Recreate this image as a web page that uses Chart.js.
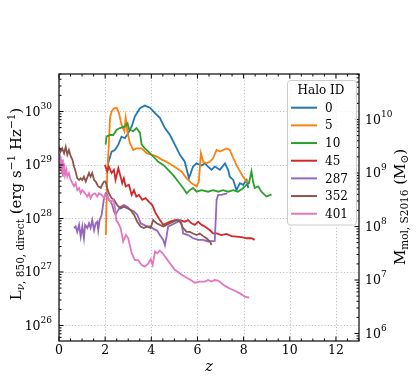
<!DOCTYPE html>
<html lang="en">
<head>
<meta charset="UTF-8" />
<title>Halo luminosity vs redshift</title>
<script src="https://cdn.jsdelivr.net/npm/chart.js"></script>
<style>
  body { margin: 0; background: #fff; }
  canvas { display: block; }
</style>
</head>
<body>
<canvas id="chart" width="416" height="382"></canvas>
<script>
  // halo ids and matplotlib tab colours
  const haloIds = ['0', '5', '10', '45', '287', '352', '401'];
  const haloColors = ['#1f77b4', '#ff7f0e', '#2ca02c', '#d62728', '#9467bd', '#8c564b', '#e377c2'];

  // tick labels
  const zTicks = [0, 2, 4, 6, 8, 10, 12];
  const lumDecades = [26, 27, 28, 29, 30];   // left axis, log10 L
  const massDecades = [6, 7, 8, 9, 10];      // right axis, log10 M

  // redshift / log10(L_850), one pair per halo
  const z_0 = [2.10, 2.13, 2.28, 2.42, 2.57, 2.71, 2.86, 3.00, 3.15, 3.29, 3.51, 3.72, 3.94, 4.16, 4.37, 4.59, 4.81, 5.02, 5.24, 5.45, 5.63, 5.81, 5.96, 6.18, 6.32, 6.46, 6.61, 6.75, 6.97, 7.19, 7.33, 7.40, 7.55, 7.69, 7.84, 7.98, 8.13, 8.20];
  const logL_0 = [28.90, 29.03, 29.25, 29.28, 29.38, 29.53, 29.50, 29.60, 29.72, 29.91, 30.06, 30.11, 30.07, 29.97, 29.88, 29.69, 29.56, 29.38, 29.19, 29.06, 28.75, 28.97, 29.03, 28.99, 29.03, 28.97, 28.91, 28.97, 28.91, 29.03, 28.91, 28.78, 28.72, 28.53, 28.66, 28.63, 28.72, 28.57];

  const z_5 = [2.03, 2.09, 2.16, 2.21, 2.28, 2.39, 2.50, 2.60, 2.71, 2.83, 2.89, 2.96, 3.07, 3.22, 3.36, 3.58, 3.80, 4.01, 4.23, 4.45, 4.66, 4.88, 5.10, 5.31, 5.53, 5.74, 5.96, 6.06, 6.15, 6.25, 6.39, 6.54, 6.68, 6.83, 6.97, 7.11, 7.26, 7.40, 7.55, 7.69, 7.84, 7.98, 8.13, 8.27];
  const logL_5 = [27.69, 28.85, 29.38, 29.88, 30.00, 30.06, 30.07, 29.97, 29.75, 29.63, 29.88, 29.63, 29.41, 29.28, 29.31, 29.31, 29.22, 29.19, 29.16, 29.10, 29.06, 29.00, 28.94, 28.88, 28.75, 28.66, 28.60, 28.69, 29.22, 29.06, 29.03, 29.06, 29.13, 29.28, 29.25, 29.28, 29.31, 29.28, 29.13, 29.00, 28.88, 28.78, 28.69, 28.66];

  const z_10 = [2.02, 2.06, 2.21, 2.35, 2.50, 2.64, 2.86, 2.97, 3.04, 3.22, 3.36, 3.51, 3.58, 3.72, 3.87, 4.08, 4.30, 4.52, 4.73, 4.95, 5.16, 5.38, 5.53, 5.67, 5.81, 5.96, 6.18, 6.46, 6.68, 6.90, 7.11, 7.33, 7.55, 7.76, 7.98, 8.13, 8.23, 8.34, 8.41, 8.48, 8.63, 8.77, 8.99, 9.21];
  const logL_10 = [29.38, 29.53, 29.56, 29.56, 29.66, 29.69, 29.72, 29.78, 29.66, 29.63, 29.69, 29.60, 29.38, 29.31, 29.25, 29.16, 29.06, 29.00, 28.91, 28.81, 28.69, 28.57, 28.47, 28.53, 28.57, 28.50, 28.53, 28.50, 28.53, 28.50, 28.53, 28.50, 28.53, 28.50, 28.57, 28.63, 28.66, 28.88, 28.69, 28.57, 28.60, 28.50, 28.41, 28.45];

  const z_45 = [1.99, 2.09, 2.16, 2.28, 2.38, 2.45, 2.57, 2.67, 2.74, 2.81, 2.89, 3.03, 3.15, 3.25, 3.35, 3.46, 3.61, 3.75, 3.90, 4.04, 4.19, 4.33, 4.52, 4.66, 4.81, 5.02, 5.24, 5.45, 5.60, 5.74, 5.89, 6.03, 6.18, 6.32, 6.54, 6.68, 6.83, 7.04, 7.26, 7.48, 7.69, 7.91, 8.13, 8.34, 8.48];
  const logL_45 = [29.00, 28.88, 28.97, 28.85, 28.91, 28.72, 28.94, 28.78, 28.66, 28.75, 28.60, 28.63, 28.44, 28.53, 28.41, 28.44, 28.35, 28.38, 28.31, 28.25, 28.10, 28.00, 27.88, 27.91, 27.94, 27.97, 27.97, 27.94, 27.97, 27.91, 27.88, 27.94, 27.88, 27.85, 27.78, 27.72, 27.72, 27.69, 27.71, 27.67, 27.66, 27.65, 27.63, 27.63, 27.60];

  const z_287 = [0.65, 0.72, 0.79, 0.87, 0.94, 1.01, 1.08, 1.13, 1.23, 1.30, 1.37, 1.44, 1.52, 1.59, 1.66, 1.70, 1.76, 1.85, 1.95, 2.02, 2.09, 2.16, 2.24, 2.31, 2.38, 2.45, 2.57, 2.67, 2.81, 2.96, 3.10, 3.25, 3.39, 3.54, 3.68, 3.82, 3.97, 4.11, 4.26, 4.37, 4.52, 4.59, 4.66, 4.73, 4.88, 5.02, 5.16, 5.24, 5.31, 5.38, 5.60, 5.81, 6.03, 6.25, 6.46, 6.75, 6.83, 6.90, 7.04, 7.19, 7.29];
  const logL_287 = [27.82, 27.85, 27.75, 27.88, 27.66, 27.85, 27.63, 27.88, 27.82, 27.91, 27.82, 27.97, 27.78, 27.91, 27.94, 27.78, 27.97, 28.07, 28.38, 28.47, 28.44, 28.35, 28.31, 28.25, 28.13, 28.07, 28.16, 28.22, 28.25, 28.22, 28.16, 28.13, 28.07, 27.91, 27.88, 27.85, 27.85, 27.80, 27.77, 27.69, 27.60, 27.50, 27.66, 27.85, 27.88, 27.91, 27.94, 27.97, 27.91, 27.72, 27.69, 27.63, 27.60, 27.60, 27.57, 27.58, 28.35, 28.44, 28.44, 28.46, 28.47];

  const z_352 = [0.00, 0.07, 0.14, 0.22, 0.29, 0.36, 0.43, 0.51, 0.58, 0.65, 0.72, 0.79, 0.87, 0.94, 1.01, 1.08, 1.16, 1.30, 1.37, 1.44, 1.52, 1.59, 1.70, 1.81, 1.87, 1.95, 2.02, 2.09, 2.16, 2.28, 2.38, 2.52, 2.67, 2.81, 2.96, 3.10, 3.25, 3.39, 3.54, 3.68, 3.82, 3.97, 4.08, 4.23, 4.37, 4.52, 4.66, 4.81, 4.95, 5.10, 5.24, 5.38, 5.53, 5.67, 5.81, 5.96, 6.10, 6.25, 6.39, 6.54, 6.61];
  const logL_352 = [29.34, 29.25, 29.31, 29.22, 29.34, 29.19, 29.28, 29.16, 29.10, 28.97, 28.88, 28.75, 28.72, 28.75, 28.72, 28.78, 28.69, 28.85, 28.78, 28.85, 28.72, 28.69, 28.60, 28.57, 28.63, 28.69, 28.69, 28.57, 28.47, 28.38, 28.35, 28.25, 28.19, 28.22, 28.19, 28.16, 28.07, 27.94, 27.85, 27.82, 27.85, 27.82, 27.97, 27.91, 27.88, 27.85, 27.88, 27.91, 27.94, 27.97, 27.94, 27.82, 27.75, 27.75, 27.72, 27.69, 27.72, 27.67, 27.63, 27.57, 27.50];

  const z_401 = [0.00, 0.04, 0.07, 0.12, 0.14, 0.17, 0.22, 0.26, 0.32, 0.36, 0.43, 0.51, 0.58, 0.65, 0.72, 0.79, 0.87, 0.94, 1.01, 1.13, 1.23, 1.30, 1.37, 1.44, 1.56, 1.66, 1.73, 1.85, 1.95, 2.02, 2.13, 2.24, 2.34, 2.42, 2.48, 2.57, 2.67, 2.78, 2.90, 3.00, 3.15, 3.29, 3.43, 3.58, 3.72, 3.87, 3.97, 4.06, 4.16, 4.26, 4.37, 4.49, 4.66, 4.81, 5.02, 5.24, 5.45, 5.67, 5.89, 6.10, 6.32, 6.46, 6.61, 6.75, 6.90, 7.04, 7.19, 7.40, 7.62, 7.84, 8.05, 8.24];
  const logL_401 = [29.22, 28.91, 29.16, 28.85, 29.10, 28.78, 29.03, 28.81, 28.91, 28.78, 28.85, 28.72, 28.66, 28.60, 28.66, 28.53, 28.57, 28.47, 28.53, 28.47, 28.41, 28.47, 28.38, 28.44, 28.47, 28.41, 28.47, 28.44, 28.38, 28.44, 28.38, 28.31, 28.35, 28.22, 27.97, 27.91, 27.82, 27.57, 27.69, 27.63, 27.35, 27.22, 27.22, 27.13, 27.10, 27.16, 27.24, 27.13, 27.38, 27.35, 27.40, 27.35, 27.25, 27.16, 27.04, 26.97, 26.91, 26.86, 26.80, 26.82, 26.82, 26.85, 26.82, 26.85, 26.84, 26.79, 26.74, 26.69, 26.65, 26.60, 26.54, 26.52];

  const zSeries = [z_0, z_5, z_10, z_45, z_287, z_352, z_401];
  const logLSeries = [logL_0, logL_5, logL_10, logL_45, logL_287, logL_352, logL_401];

  const SERIF = '"DejaVu Serif", serif';
  const setFont = (ctx, px, style) => { ctx.font = (style || '') + ' ' + px + 'px ' + SERIF; };

  // text with sub/superscripts, centred on (x, y)
  function drawRich(ctx, parts, x, y, angle, size) {
    ctx.save();
    ctx.translate(x, y);
    ctx.rotate(angle);
    let total = 0;
    parts.forEach(p => { setFont(ctx, size * (p.s || 1), p.st); p.w = ctx.measureText(p.t).width; total += p.w; });
    let cx = -total / 2;
    ctx.textAlign = 'left';
    ctx.textBaseline = 'alphabetic';
    parts.forEach(p => {
      setFont(ctx, size * (p.s || 1), p.st);
      ctx.fillText(p.t, cx, (p.dy || 0) * size);
      cx += p.w;
    });
    ctx.restore();
  }

  const TICK_PX = 12.5, EXP_PX = 9;

  const decorations = {
    id: 'decorations',
    beforeDatasetsDraw(chart) {
      const { ctx, chartArea: a, scales } = chart;
      ctx.save();
      ctx.strokeStyle = '#b0b0b0';
      ctx.lineWidth = 0.8;
      ctx.setLineDash([1.2, 2]);
      zTicks.forEach(t => {
        const px = Math.round(scales.x.getPixelForValue(t)) + 0.5;
        ctx.beginPath(); ctx.moveTo(px, a.top); ctx.lineTo(px, a.bottom); ctx.stroke();
      });
      lumDecades.forEach(e => {
        const py = Math.round(scales.y.getPixelForValue(Math.pow(10, e))) + 0.5;
        ctx.beginPath(); ctx.moveTo(a.left, py); ctx.lineTo(a.right, py); ctx.stroke();
      });
      ctx.restore();
    },
    afterDraw(chart) {
      const { ctx, chartArea: a, scales } = chart;
      ctx.save();
      ctx.fillStyle = '#000';
      ctx.strokeStyle = '#000';

      // inward ticks
      ctx.lineWidth = 1;
      const tick = (x1, y1, x2, y2) => { ctx.beginPath(); ctx.moveTo(x1, y1); ctx.lineTo(x2, y2); ctx.stroke(); };
      for (let v = 0; v <= 13; v += 0.5) {
        const px = scales.x.getPixelForValue(v);
        const len = v % 2 === 0 ? 4.5 : 2.5;
        tick(px, a.bottom, px, a.bottom - len);
        tick(px, a.top, px, a.top + len);
      }
      const logTicks = (scale, x0, dir) => {
        const lo = Math.floor(Math.log10(scale.min)), hi = Math.ceil(Math.log10(scale.max));
        for (let e = lo; e <= hi; e++) {
          for (let m = 1; m <= 9; m++) {
            const v = m * Math.pow(10, e);
            if (v < scale.min || v > scale.max) continue;
            const py = scale.getPixelForValue(v);
            tick(x0, py, x0 + dir * (m === 1 ? 4.5 : 2.5), py);
          }
        }
      };
      logTicks(scales.y, a.left, 1);
      logTicks(scales.y2, a.right, -1);

      // frame
      ctx.lineWidth = 1.3;
      ctx.strokeStyle = '#1a1a1a';
      ctx.strokeRect(a.left, a.top, a.right - a.left, a.bottom - a.top);

      // tick labels
      setFont(ctx, TICK_PX);
      ctx.textAlign = 'center';
      ctx.textBaseline = 'middle';
      zTicks.forEach(t => ctx.fillText(String(t), scales.x.getPixelForValue(t), a.bottom + 9.5));

      lumDecades.forEach(e => {
        const py = scales.y.getPixelForValue(Math.pow(10, e));
        setFont(ctx, EXP_PX);
        const ew = ctx.measureText(String(e)).width;
        ctx.textAlign = 'right';
        ctx.fillText(String(e), a.left - 7, py - 5);
        setFont(ctx, TICK_PX);
        ctx.fillText('10', a.left - 7 - ew, py + 1);
      });
      massDecades.forEach(e => {
        const py = scales.y2.getPixelForValue(Math.pow(10, e));
        setFont(ctx, TICK_PX);
        ctx.textAlign = 'left';
        const bw = ctx.measureText('10').width;
        ctx.fillText('10', a.right + 6, py + 1);
        setFont(ctx, EXP_PX);
        ctx.fillText(String(e), a.right + 6 + bw, py - 5);
      });

      // axis titles
      drawRich(ctx, [{ t: 'z', st: 'italic' }], (a.left + a.right) / 2, a.bottom + 30, 0, 15);
      drawRich(ctx, [
        { t: 'L' },
        { t: 'ν', s: 0.7, dy: 0.22, st: 'italic' },
        { t: ', 850, direct', s: 0.7, dy: 0.22 },
        { t: ' (erg s' },
        { t: '−1', s: 0.7, dy: -0.4 },
        { t: ' Hz' },
        { t: '−1', s: 0.7, dy: -0.4 },
        { t: ')' }
      ], 21, 204, -Math.PI / 2, 15);
      drawRich(ctx, [
        { t: 'M' },
        { t: 'mol, S2016', s: 0.7, dy: 0.22 },
        { t: ' (M' },
        { t: '⊙', s: 0.7, dy: 0.22 },
        { t: ')' }
      ], 405, 207, -Math.PI / 2, 15);

      // legend box
      const lx = 287.5, ly = 80.5, lw = 69, lh = 144.5;
      ctx.setLineDash([]);
      ctx.beginPath();
      ctx.roundRect(lx, ly, lw, lh, 3);
      ctx.fillStyle = 'rgba(255,255,255,0.8)';
      ctx.fill();
      ctx.strokeStyle = '#cccccc';
      ctx.lineWidth = 1;
      ctx.stroke();
      ctx.fillStyle = '#000';
      setFont(ctx, 12);
      ctx.textAlign = 'center';
      ctx.fillText('Halo ID', lx + lw / 2 - 1, 91);
      ctx.textAlign = 'left';
      chart.data.datasets.forEach((ds, i) => {
        const yy = 107.7 + i * 17.67;
        ctx.strokeStyle = ds.borderColor;
        ctx.lineWidth = 2;
        ctx.beginPath(); ctx.moveTo(291, yy); ctx.lineTo(317, yy); ctx.stroke();
        ctx.fillText(ds.label, 325, yy + 1);
      });
      ctx.restore();
    }
  };

  const datasets = haloIds.map((id, i) => ({
    label: id,
    data: zSeries[i].map((z, k) => ({ x: z, y: Math.pow(10, logLSeries[i][k]) })),
    borderColor: haloColors[i],
    borderWidth: 1.8,
    pointRadius: 0,
    tension: 0,
    fill: false,
    order: haloIds.length - i,
    yAxisID: 'y'
  }));

  const hidden = { display: false };

  new Chart(document.getElementById('chart'), {
    type: 'line',
    data: { datasets },
    options: {
      responsive: false,
      animation: false,
      devicePixelRatio: 1,
      layout: { padding: { top: 74, left: 0, right: 0, bottom: 0 } },
      plugins: { legend: hidden, tooltip: { enabled: false } },
      scales: {
        x: {
          type: 'linear', min: 0, max: 13,
          grid: hidden, border: hidden, ticks: hidden,
          afterFit: s => { s.height = 41; }
        },
        y: {
          type: 'logarithmic', position: 'left',
          min: Math.pow(10, 25.71), max: Math.pow(10, 30.70),
          grid: hidden, border: hidden, ticks: hidden,
          afterFit: s => { s.width = 59; }
        },
        y2: {
          type: 'logarithmic', position: 'right',
          min: Math.pow(10, 5.86), max: Math.pow(10, 10.85),
          grid: hidden, border: hidden, ticks: hidden,
          afterFit: s => { s.width = 57; }
        }
      }
    },
    plugins: [decorations]
  });
</script>
</body>
</html>
